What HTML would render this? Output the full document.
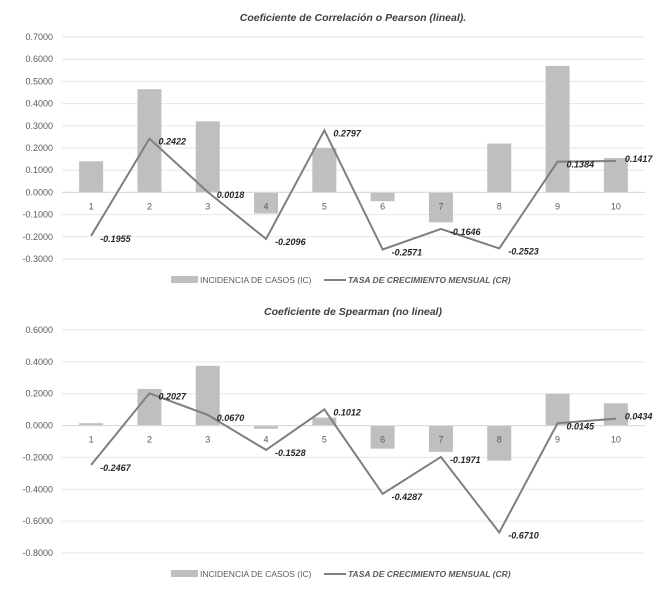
<!DOCTYPE html>
<html><head><meta charset="utf-8"><style>
body{margin:0;background:#fff;}
svg{display:block;font-family:"Liberation Sans",sans-serif;}
.tick{font-size:9px;fill:#595959;}
.title{font-size:10.5px;font-style:italic;font-weight:bold;fill:#404040;}
.lbl{font-size:9px;font-style:italic;font-weight:bold;fill:#262626;}
.leg{font-size:8.5px;fill:#595959;}
</style></head><body>
<svg id="chart" width="671" height="589" viewBox="0 0 671 589"></svg>
<script>
const categories=["1","2","3","4","5","6","7","8","9","10"];
const pearsonBars=[0.14,0.465,0.32,-0.095,0.20,-0.04,-0.135,0.22,0.57,0.155];
const pearsonLine=[-0.1955,0.2422,0.0018,-0.2096,0.2797,-0.2571,-0.1646,-0.2523,0.1384,0.1417];
const pearsonTicks=[0.7,0.6,0.5,0.4,0.3,0.2,0.1,0,-0.1,-0.2,-0.3];
const spearmanBars=[0.015,0.23,0.375,-0.02,0.05,-0.145,-0.165,-0.22,0.2,0.14];
const spearmanLine=[-0.2467,0.2027,0.0670,-0.1528,0.1012,-0.4287,-0.1971,-0.6710,0.0145,0.0434];
const spearmanTicks=[0.6,0.4,0.2,0,-0.2,-0.4,-0.6,-0.8];
const NS="http://www.w3.org/2000/svg";
const svg=document.getElementById('chart');
function mk(tag,attrs,parent){const e=document.createElementNS(NS,tag);for(const k in attrs)e.setAttribute(k,attrs[k]);(parent||svg).appendChild(e);return e;}
function fmt(v){return v.toFixed(4);}
function drawChart(cfg){
  const g=mk('g',{});
  
  
  const x0=62,x1=645,bw=(x1-x0)/categories.length;
  const max=cfg.ticks[0],min=cfg.ticks[cfg.ticks.length-1];
  const y=v=>cfg.yTop+(max-v)/(max-min)*(cfg.yBot-cfg.yTop);
  const xc=i=>x0+bw*(i+0.5);
  const t=mk('text',{x:353,y:cfg.titleY,'text-anchor':'middle',class:'title'},g);t.textContent=cfg.title;
  
  cfg.ticks.forEach(v=>{
    const l=mk('line',{x1:x0,x2:x1,y1:y(v),y2:y(v),stroke:'#e6e6e6','stroke-width':1},g);
    
    const tx=mk('text',{x:53,y:y(v)+3,'text-anchor':'end',class:'tick'},g);tx.textContent=fmt(v);
    
  });
  cfg.bars.forEach((v,i)=>{
    const r=mk('rect',{x:xc(i)-12,width:24,y:Math.min(y(v),y(0)),height:Math.abs(y(v)-y(0)),fill:'#bfbfbf'},g);
    
  });
  const zl=mk('line',{x1:x0,x2:x1,y1:y(0),y2:y(0),stroke:'#d9d9d9'},g);
  
  categories.forEach((c,i)=>{
    const tx=mk('text',{x:xc(i),y:y(0)+17,'text-anchor':'middle',class:'tick'},g);tx.textContent=c;
    
  });
  const pts=cfg.line.map((v,i)=>xc(i)+','+y(v)).join(' ');
  const pl=mk('polyline',{points:pts,fill:'none',stroke:'#7f7f7f','stroke-width':2},g);
  
  cfg.line.forEach((v,i)=>{
    const tx=mk('text',{x:xc(i)+9,y:y(v)+(i===9?1:6),class:'lbl'},g);tx.textContent=fmt(v);
    
  });
  const lr=mk('rect',{x:171,y:cfg.legY-4,width:27,height:7,fill:'#bfbfbf'},g);
  
  const lt=mk('text',{x:200,y:cfg.legY+3,class:'leg'},g);lt.textContent='INCIDENCIA DE CASOS (IC)';
  
  const ll=mk('line',{x1:324,x2:346,y1:cfg.legY,y2:cfg.legY,stroke:'#7f7f7f','stroke-width':2},g);
  
  const lt2=mk('text',{x:348,y:cfg.legY+3,class:'leg','font-style':'italic','font-weight':'bold'},g);lt2.textContent='TASA DE CRECIMIENTO MENSUAL (CR)';
  
}
drawChart({name:'pearson-chart',title:'Coeficiente de Correlación o Pearson (lineal).',titleY:21,yTop:37,yBot:259,ticks:pearsonTicks,bars:pearsonBars,line:pearsonLine,legY:280});
drawChart({name:'spearman-chart',title:'Coeficiente de Spearman (no lineal)',titleY:315,yTop:330,yBot:553,ticks:spearmanTicks,bars:spearmanBars,line:spearmanLine,legY:574});
</script>
</body></html>
